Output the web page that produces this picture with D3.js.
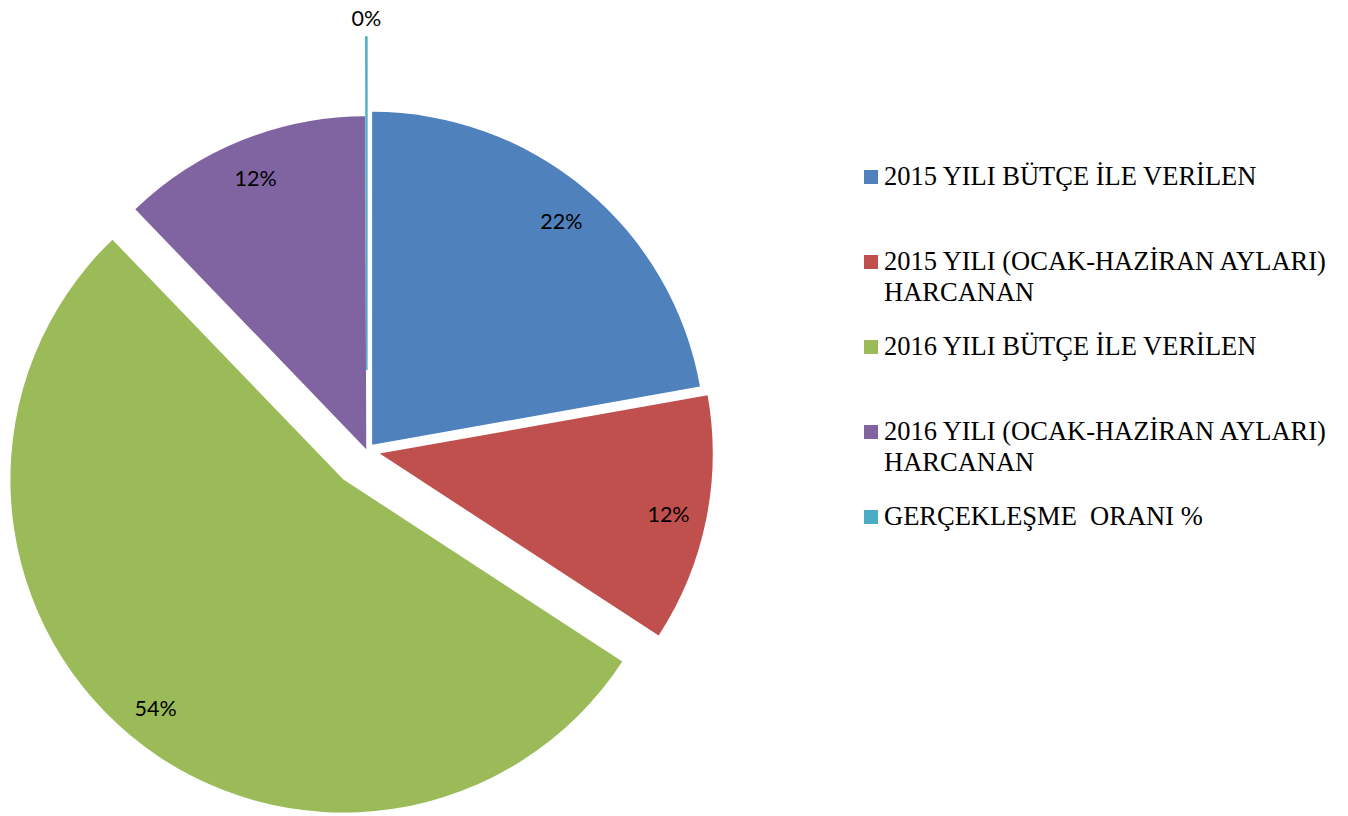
<!DOCTYPE html>
<html>
<head>
<meta charset="utf-8">
<script src="https://cdn.jsdelivr.net/npm/d3@7"></script>
<style>
  body { margin: 0; background: #fff; }
</style>
</head>
<body>
<div id="chart"></div>
<script>
// slice names, as in the legend
var categories = [
  "2015 YILI BÜTÇE İLE VERİLEN",
  "2015 YILI (OCAK-HAZİRAN AYLARI) HARCANAN",
  "2016 YILI BÜTÇE İLE VERİLEN",
  "2016 YILI (OCAK-HAZİRAN AYLARI) HARCANAN",
  "GERÇEKLEŞME  ORANI %"
];
// share of each slice (percent)
var values = [22.2, 12.0, 53.6, 12.15, 0.05];
// legend text split in lines
var legendLines = [
  ["2015 YILI BÜTÇE İLE VERİLEN"],
  ["2015 YILI (OCAK-HAZİRAN AYLARI)", "HARCANAN"],
  ["2016 YILI BÜTÇE İLE VERİLEN"],
  ["2016 YILI (OCAK-HAZİRAN AYLARI)", "HARCANAN"],
  ["GERÇEKLEŞME  ORANI %"]
];
var colors = ["#4F81BD", "#C0504D", "#9BBB59", "#8064A2", "#4BACC6"];
// how far each slice is pulled out of the pie
var explode = [8, 13, 37, 2, 81];

var width = 1348,
    height = 816;

var center = { x: 367, y: 451 };
var radius = 333;

var svg = d3.select("#chart")
  .append("svg")
  .attr("width", width)
  .attr("height", height);

var pie = d3.pie().sort(null).value(function(d) { return d; });
var arc = d3.arc().innerRadius(0).outerRadius(radius);

var total = d3.sum(values);
var fmt = d3.format(".0%");

var arcs = pie(values);

var slices = svg.selectAll(".slice")
  .data(arcs)
  .enter().append("g")
  .attr("class", "slice")
  .attr("transform", function(d, i) {
    var mid = (d.startAngle + d.endAngle) / 2;
    var x = center.x + explode[i] * Math.sin(mid);
    var y = center.y - explode[i] * Math.cos(mid);
    return "translate(" + x + "," + y + ")";
  });

slices.append("path")
  .attr("d", arc)
  .attr("fill", function(d, i) { return colors[i]; })
  .attr("stroke", function(d, i) { return d.value / total < 0.01 ? colors[i] : "none"; })
  .attr("stroke-width", 1.5);

// percentage labels, tiny slices get theirs outside
function labelRadius(d) {
  return d.value / total < 0.01 ? radius + 21 : radius * 0.885;
}

slices.append("text")
  .attr("x", function(d) {
    var mid = (d.startAngle + d.endAngle) / 2;
    return labelRadius(d) * Math.sin(mid);
  })
  .attr("y", function(d) {
    var mid = (d.startAngle + d.endAngle) / 2;
    return -labelRadius(d) * Math.cos(mid) + 2;
  })
  .attr("dy", "0.35em")
  .attr("text-anchor", "middle")
  .style("font-family", "Lato, 'Open Sans', sans-serif")
  .style("font-size", "21.5px")
  .style("fill", "#000")
  .text(function(d) { return fmt(d.value / total); });

// legend
var legend = svg.append("g")
  .attr("transform", "translate(864,177)");

var items = legend.selectAll(".item")
  .data(categories)
  .enter().append("g")
  .attr("class", "item")
  .attr("transform", function(d, i) { return "translate(0," + (i * 85) + ")"; });

items.append("rect")
  .attr("x", 0)
  .attr("y", -7)
  .attr("width", 14)
  .attr("height", 14)
  .attr("fill", function(d, i) { return colors[i]; });

items.append("text")
  .attr("x", 20)
  .attr("y", 8)
  .style("font-family", "'Liberation Serif', 'Times New Roman', serif")
  .style("font-size", "26.5px")
  .style("white-space", "pre")
  .style("fill", "#000")
  .selectAll("tspan")
  .data(function(d, i) { return legendLines[i]; })
  .enter().append("tspan")
  .attr("x", 20)
  .attr("dy", function(d, j) { return j === 0 ? 0 : 31; })
  .text(function(d) { return d; });
</script>
</body>
</html>
